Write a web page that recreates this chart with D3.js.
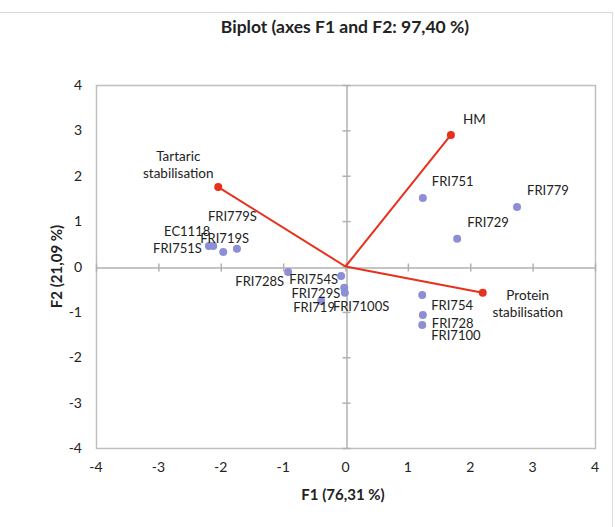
<!DOCTYPE html>
<html>
<head>
<meta charset="utf-8">
<script src="https://cdn.jsdelivr.net/npm/d3@7"></script>
<style>
  html, body { margin: 0; padding: 0; background: #fff; }
  svg text { font-family: Lato, "Open Sans", sans-serif; fill: #222; }
</style>
</head>
<body>
<svg id="chart" width="615" height="527"></svg>
<script>
// Observations (F1, F2 scores)
const obsNames = ["FRI779", "FRI751", "FRI729", "FRI754", "FRI728", "FRI7100",
  "FRI751S", "EC1118", "FRI719S", "FRI779S", "FRI728S", "FRI754S",
  "FRI729S", "FRI7100S", "FRI719"];
const obsF1 = [2.75, 1.24, 1.79, 1.23, 1.24, 1.23,
  -2.19, -2.12, -1.96, -1.74, -0.92, -0.07,
  -0.02, -0.01, -0.39];
const obsF2 = [1.31, 1.51, 0.61, -0.63, -1.07, -1.29,
  0.45, 0.45, 0.32, 0.39, -0.12, -0.21,
  -0.47, -0.58, -0.76];

// Variables (loading vectors)
const varNames = [["HM"], ["Tartaric", "stabilisation"], ["Protein", "stabilisation"]];
const varF1 = [1.69, -2.04, 2.20];
const varF2 = [2.90, 1.75, -0.58];

const tickValues = [-4, -3, -2, -1, 0, 1, 2, 3, 4];

// Label placement relative to each marker (pixels)
const obsLabelPos = {
  "FRI779": [10, -15, "start"], "FRI751": [9, -15, "start"], "FRI729": [10, -15, "start"],
  "FRI754": [9, 12, "start"], "FRI728": [9, 10, "start"], "FRI7100": [9, 12, "start"],
  "FRI751S": [-7, 4, "end"], "EC1118": [-3, -13, "end"], "FRI719S": [-23, -12, "start"],
  "FRI779S": [-29, -31, "start"], "FRI728S": [-4, 11, "end"], "FRI754S": [-3, 5, "end"],
  "FRI729S": [-4, 7, "end"], "FRI7100S": [-12, 15, "start"], "FRI719": [-28, 8, "start"]
};
const varLabelPos = [[12, -14, "start"], [-40, -29, "middle"], [45, 4, "middle"]];

const svg = d3.select("#chart");
const W = 615, H = 527;
const plot = { left: 96, right: 595, top: 85, bottom: 448 };

// outer chart frame
svg.append("line").attr("x1", 0).attr("x2", 612).attr("y1", 12.5).attr("y2", 12.5)
  .attr("stroke", "#d9d9d9");
svg.append("line").attr("x1", 612.5).attr("x2", 612.5).attr("y1", 12).attr("y2", H)
  .attr("stroke", "#d9d9d9");

const x = d3.scaleLinear().domain([-4, 4]).range([plot.left, plot.right]);
const y = d3.scaleLinear().domain([-4, 4]).range([plot.bottom, plot.top]);

// plot area border
svg.append("rect")
  .attr("x", plot.left + 0.5).attr("y", plot.top + 0.5)
  .attr("width", plot.right - plot.left).attr("height", plot.bottom - plot.top)
  .attr("fill", "none").attr("stroke", "#bfbfbf").attr("stroke-width", 1.5);

// zero axes with crossing tick marks
const xAxis = d3.axisBottom(x).tickValues(tickValues).tickSizeInner(4).tickSizeOuter(0).tickFormat("");
const gx = svg.append("g").attr("transform", `translate(0,${Math.round(y(0)) + 0.5})`).call(xAxis);
gx.selectAll(".tick line").attr("y1", -4).attr("y2", 4);
const yAxis = d3.axisLeft(y).tickValues(tickValues).tickSizeInner(4).tickSizeOuter(0).tickFormat("");
const gy = svg.append("g").attr("transform", `translate(${Math.round(x(0)) + 0.5},0)`).call(yAxis);
gy.selectAll(".tick line").attr("x1", -4).attr("x2", 4);
svg.selectAll(".domain, .tick line").attr("stroke", "#b0b0b0").attr("stroke-width", 1.5);

// tick labels along the plot edges
svg.append("g").selectAll("text").data(tickValues).join("text")
  .attr("x", d => x(d)).attr("y", plot.bottom + 24)
  .attr("text-anchor", "middle").attr("font-size", 14).attr("fill", "#333")
  .text(d => d);
svg.append("g").selectAll("text").data(tickValues).join("text")
  .attr("x", plot.left - 14).attr("y", d => y(d) + 5)
  .attr("text-anchor", "end").attr("font-size", 14).attr("fill", "#333")
  .text(d => d);

// titles
svg.append("text").attr("x", 345).attr("y", 33).attr("text-anchor", "middle")
  .attr("font-size", 17.5).attr("font-weight", "bold").text("Biplot (axes F1 and F2: 97,40 %)");
svg.append("text").attr("x", 343).attr("y", 500).attr("text-anchor", "middle")
  .attr("font-size", 15).attr("font-weight", "bold").text("F1 (76,31 %)");
svg.append("text").attr("transform", `translate(62,${y(0)}) rotate(-90)`)
  .attr("text-anchor", "middle").attr("font-size", 15).attr("font-weight", "bold")
  .text("F2 (21,09 %)");

// observations
const obs = obsNames.map((n, i) => ({ name: n, f1: obsF1[i], f2: obsF2[i] }));
svg.append("g").selectAll("circle").data(obs).join("circle")
  .attr("cx", d => x(d.f1)).attr("cy", d => y(d.f2)).attr("r", 4)
  .attr("fill", "#8c8fd6");
svg.append("g").selectAll("text").data(obs).join("text")
  .attr("x", d => x(d.f1) + obsLabelPos[d.name][0])
  .attr("y", d => y(d.f2) + obsLabelPos[d.name][1])
  .attr("text-anchor", d => obsLabelPos[d.name][2])
  .attr("dominant-baseline", "middle")
  .attr("font-size", 13).text(d => d.name);

// variable vectors
const vars = varNames.map((n, i) => ({ lines: n, f1: varF1[i], f2: varF2[i], pos: varLabelPos[i] }));
svg.append("g").selectAll("line").data(vars).join("line")
  .attr("x1", x(0)).attr("y1", y(0))
  .attr("x2", d => x(d.f1)).attr("y2", d => y(d.f2))
  .attr("stroke", "#e8301c").attr("stroke-width", 2);
svg.append("g").selectAll("circle").data(vars).join("circle")
  .attr("cx", d => x(d.f1)).attr("cy", d => y(d.f2)).attr("r", 4)
  .attr("fill", "#e8301c");
const vl = svg.append("g").selectAll("text").data(vars).join("text")
  .attr("x", d => x(d.f1) + d.pos[0])
  .attr("y", d => y(d.f2) + d.pos[1])
  .attr("text-anchor", d => d.pos[2])
  .attr("dominant-baseline", "middle")
  .attr("font-size", 13.5);
vl.selectAll("tspan").data(d => d.lines.map(t => ({ t, d }))).join("tspan")
  .attr("x", o => x(o.d.f1) + o.d.pos[0])
  .attr("dy", (o, i) => i === 0 ? 0 : 17)
  .text(o => o.t);
</script>
</body>
</html>
